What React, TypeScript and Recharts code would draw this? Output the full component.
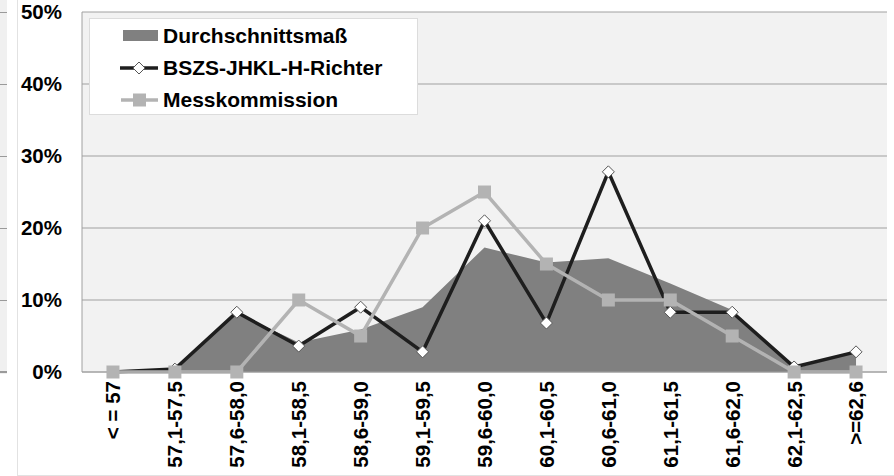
import {
  ComposedChart,
  Area,
  Line,
  XAxis,
  YAxis,
  CartesianGrid,
  Legend,
} from 'recharts';

const CATEGORIES = [
  '< = 57',
  '57,1-57,5',
  '57,6-58,0',
  '58,1-58,5',
  '58,6-59,0',
  '59,1-59,5',
  '59,6-60,0',
  '60,1-60,5',
  '60,6-61,0',
  '61,1-61,5',
  '61,6-62,0',
  '62,1-62,5',
  '>=62,6',
];

// values in percent
const DURCHSCHNITT = [0, 0.4, 8.2, 4.1, 5.9, 9, 17.3, 15.2, 15.8, 12.3, 8.6, 0.5, 2.7];
const RICHTER = [0, 0.4, 8.3, 3.6, 9, 2.8, 21, 6.8, 27.8, 8.3, 8.3, 0.7, 2.8];
const MESSKOMMISSION = [0, 0, 0, 10, 5, 20, 25, 15, 10, 10, 5, 0, 0];

const Y_TICKS = [0, 10, 20, 30, 40, 50];

const data = CATEGORIES.map((name, i) => ({
  name,
  avg: DURCHSCHNITT[i],
  richter: RICHTER[i],
  mess: MESSKOMMISSION[i],
}));

const FONT = '"Liberation Sans", Arial, sans-serif';
const AREA_COLOR = '#808080';
const DARK_LINE = '#1e1e1e';
const LIGHT_LINE = '#b3b3b3';

function DiamondDot(props: any) {
  const { cx, cy } = props;
  if (cx == null || cy == null) return null;
  const r = 6;
  return (
    <polygon
      points={`${cx},${cy - r} ${cx + r},${cy} ${cx},${cy + r} ${cx - r},${cy}`}
      fill="#ffffff"
      stroke="#555"
      strokeWidth={1}
    />
  );
}

function SquareDot(props: any) {
  const { cx, cy } = props;
  if (cx == null || cy == null) return null;
  const s = 13;
  return <rect x={cx - s / 2} y={cy - s / 2} width={s} height={s} fill={LIGHT_LINE} />;
}

function XTick({ x, y, payload }: any) {
  return (
    <g transform={`translate(${x},${y})`}>
      <text
        transform="rotate(-90)"
        x={-9}
        dy="0.36em"
        textAnchor="end"
        fill="#000"
        fontSize={20.5}
        fontWeight="bold"
        fontFamily={FONT}
      >
        {payload.value}
      </text>
    </g>
  );
}

function LegendBox() {
  const rows = [
    {
      label: 'Durchschnittsmaß',
      icon: <rect x={3} y={10} width={35} height={11} fill={AREA_COLOR} />,
    },
    {
      label: 'BSZS-JHKL-H-Richter',
      icon: (
        <g>
          <line x1={0} y1={16} x2={38} y2={16} stroke={DARK_LINE} strokeWidth={3.5} />
          <polygon points="19,10 25,16 19,22 13,16" fill="#fff" stroke="#555" strokeWidth={1} />
        </g>
      ),
    },
    {
      label: 'Messkommission',
      icon: (
        <g>
          <line x1={1} y1={16} x2={38} y2={16} stroke={LIGHT_LINE} strokeWidth={3.5} />
          <rect x={13} y={9.5} width={13} height={13} fill={LIGHT_LINE} />
        </g>
      ),
    },
  ];
  return (
    <div
      style={{
        width: 329,
        height: 97,
        boxSizing: 'border-box',
        background: '#ffffff',
        border: '1px solid #dcdcdc',
        paddingTop: 1,
      }}
    >
      {rows.map((r) => (
        <div key={r.label} style={{ height: 32, display: 'flex', alignItems: 'center' }}>
          <svg width={40} height={32} style={{ marginLeft: 30, flex: 'none' }}>
            {r.icon}
          </svg>
          <span
            style={{
              marginLeft: 3,
              fontFamily: FONT,
              fontWeight: 'bold',
              fontSize: 21,
              color: '#000',
              whiteSpace: 'nowrap',
            }}
          >
            {r.label}
          </span>
        </div>
      ))}
    </div>
  );
}

export default function App() {
  return (
    <div
      style={{
        position: 'absolute',
        left: 0,
        top: 0,
        width: 894,
        height: 476,
        background: '#ffffff',
        overflow: 'hidden',
      }}
    >
      {/* edge of the neighbouring chart on the left */}
      <div
        style={{
          position: 'absolute',
          left: 0,
          top: 0,
          width: 7,
          height: 374,
          background:
            'repeating-linear-gradient(to bottom, #9a9a9a 0px, #9a9a9a 1px, #f0f0f0 1px, #f0f0f0 71.9px)',
          backgroundPosition: '0 12px',
        }}
      />
      <div
        style={{
          position: 'absolute',
          left: 17,
          top: 0,
          width: 877,
          height: 475,
          borderLeft: '1px solid #e2e2e2',
          borderBottom: '1px solid #e2e2e2',
        }}
      />
      <div style={{ position: 'absolute', left: 0, top: 0 }}>
        <ComposedChart
          width={894}
          height={476}
          data={data}
          margin={{ top: 12, right: 7, left: 0, bottom: 4 }}
        >
          <CartesianGrid
            vertical={false}
            stroke="#a0a0a0"
            fill="#f2f2f2"
            fillOpacity={1}
          />
          <XAxis
            dataKey="name"
            scale="band"
            interval={0}
            height={100}
            tickSize={0}
            tickMargin={0}
            tickLine={false}
            axisLine={{ stroke: '#a0a0a0' }}
            tick={<XTick />}
          />
          <YAxis
            domain={[0, 50]}
            ticks={Y_TICKS}
            width={82}
            tickSize={0}
            tickMargin={20}
            tickLine={false}
            axisLine={{ stroke: '#a0a0a0' }}
            tickFormatter={(v: number) => `${v}%`}
            tick={{ fill: '#000', fontSize: 20.5, fontWeight: 'bold', fontFamily: FONT }}
          />
          <Legend
            layout="vertical"
            align="center"
            verticalAlign="middle"
            content={<LegendBox />}
            wrapperStyle={{ left: 89, top: 18, width: 329, height: 97 }}
          />
          <Area
            type="linear"
            dataKey="avg"
            name="Durchschnittsmaß"
            stroke="none"
            fill={AREA_COLOR}
            fillOpacity={1}
            isAnimationActive={false}
          />
          <Line
            type="linear"
            dataKey="richter"
            name="BSZS-JHKL-H-Richter"
            stroke={DARK_LINE}
            strokeWidth={3.5}
            dot={<DiamondDot />}
            activeDot={false}
            isAnimationActive={false}
          />
          <Line
            type="linear"
            dataKey="mess"
            name="Messkommission"
            stroke={LIGHT_LINE}
            strokeWidth={3.5}
            dot={<SquareDot />}
            activeDot={false}
            isAnimationActive={false}
          />
        </ComposedChart>
      </div>
    </div>
  );
}
